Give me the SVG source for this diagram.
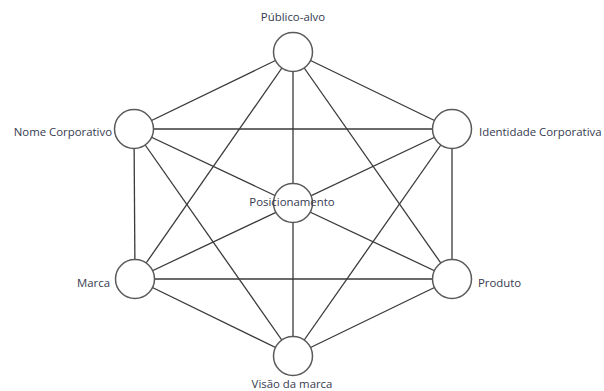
<svg xmlns="http://www.w3.org/2000/svg" width="604" height="391" viewBox="0 0 604 391">
  <style>
    .edge { stroke: #3a3a3a; stroke-width: 1.3; fill: none; }
    .node circle { fill: #ffffff; stroke: #5a5a5a; stroke-width: 1.5; }
    .label { font-family: "Open Sans", "Noto Sans", sans-serif; font-size: 11.4px; fill: #363a50; }
  </style>
  <rect width="604" height="391" fill="#ffffff"/>
  <g id="connectors">
    <!-- outer hexagon -->
    <line class="edge" x1="293" y1="52" x2="134" y2="129"/>
    <line class="edge" x1="293" y1="52" x2="452" y2="129"/>
    <line class="edge" x1="134" y1="129" x2="135" y2="279"/>
    <line class="edge" x1="452" y1="129" x2="452" y2="279"/>
    <line class="edge" x1="135" y1="279" x2="293" y2="356"/>
    <line class="edge" x1="452" y1="279" x2="293" y2="356"/>
    <!-- chords; the three long diagonals run behind the centre node -->
    <line class="edge" x1="293" y1="52" x2="135" y2="279"/>
    <line class="edge" x1="293" y1="52" x2="452" y2="279"/>
    <line class="edge" x1="293" y1="52" x2="293" y2="356"/>
    <line class="edge" x1="134" y1="129" x2="452" y2="129"/>
    <line class="edge" x1="134" y1="129" x2="452" y2="279"/>
    <line class="edge" x1="134" y1="129" x2="293" y2="356"/>
    <line class="edge" x1="452" y1="129" x2="135" y2="279"/>
    <line class="edge" x1="452" y1="129" x2="293" y2="356"/>
    <line class="edge" x1="135" y1="279" x2="452" y2="279"/>
  </g>
  <g id="publico-alvo" class="node">
    <circle cx="293" cy="52" r="19.5"/>
    <text class="label" x="293" y="21" text-anchor="middle">Público-alvo</text>
  </g>
  <g id="nome-corporativo" class="node">
    <circle cx="134" cy="129" r="19.5"/>
    <text class="label" x="112" y="136" text-anchor="end">Nome Corporativo</text>
  </g>
  <g id="identidade-corporativa" class="node">
    <circle cx="452" cy="129" r="19.5"/>
    <text class="label" x="479" y="136">Identidade Corporativa</text>
  </g>
  <g id="marca" class="node">
    <circle cx="135" cy="279" r="19.5"/>
    <text class="label" x="110" y="287" text-anchor="end">Marca</text>
  </g>
  <g id="produto" class="node">
    <circle cx="452" cy="279" r="19.5"/>
    <text class="label" x="478" y="287">Produto</text>
  </g>
  <g id="visao-da-marca" class="node">
    <circle cx="293" cy="356" r="19.5"/>
    <text class="label" x="292" y="388" text-anchor="middle">Visão da marca</text>
  </g>
  <g id="posicionamento" class="node">
    <circle cx="293" cy="203" r="19.5"/>
    <text class="label" x="292" y="206" text-anchor="middle">Posicionamento</text>
  </g>
</svg>
